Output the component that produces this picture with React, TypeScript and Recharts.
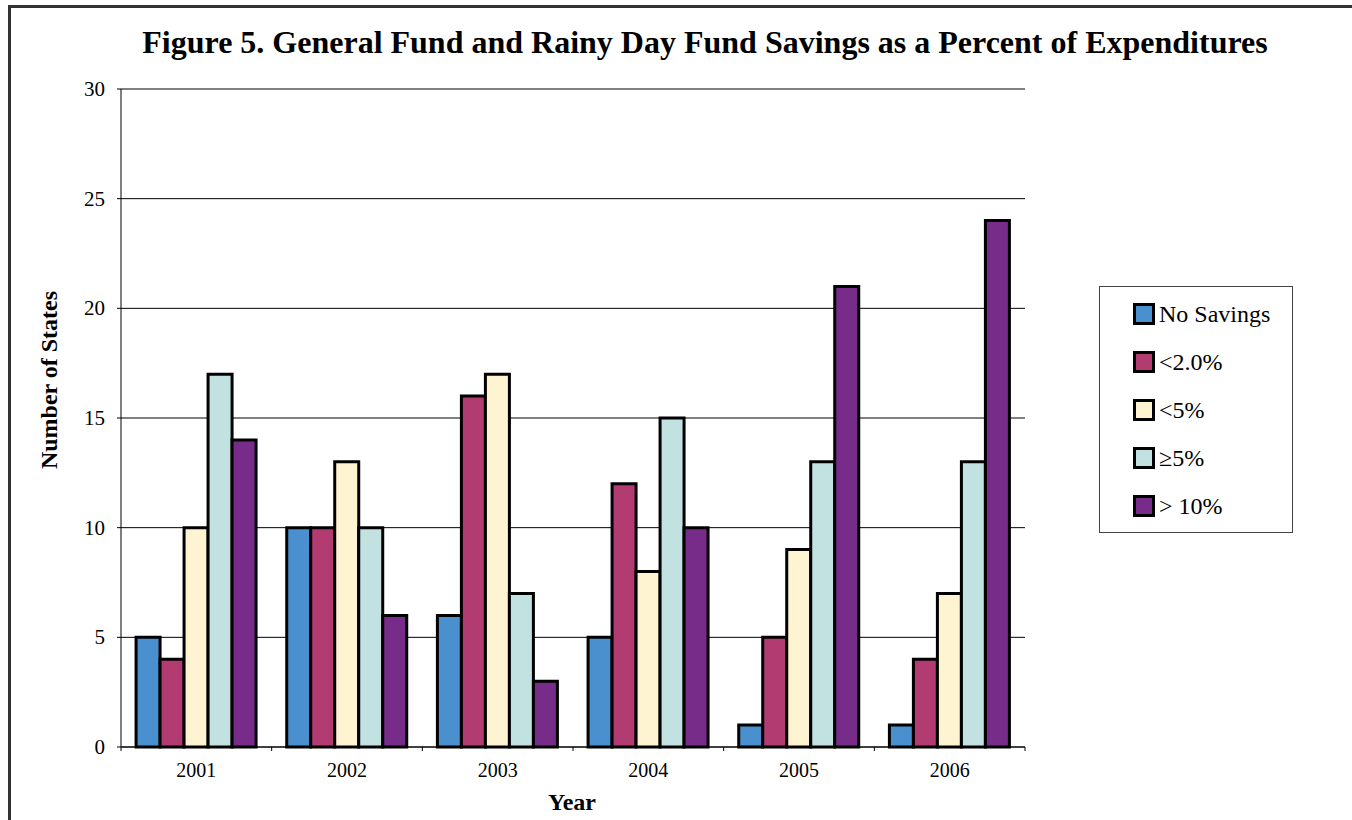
import React from "react";
import { BarChart, Bar, XAxis, YAxis, CartesianGrid } from "recharts";

const years = ["2001", "2002", "2003", "2004", "2005", "2006"];
const noSavings = [5, 10, 6, 5, 1, 1];
const under2 = [4, 10, 16, 12, 5, 4];
const under5 = [10, 13, 17, 8, 9, 7];
const atLeast5 = [17, 10, 7, 15, 13, 13];
const over10 = [14, 6, 3, 10, 21, 24];
const yTicks = [0, 5, 10, 15, 20, 25, 30];

const seriesDefs = [
  { key: "noSavings", name: "No Savings", color: "#4A8FCE", values: noSavings },
  { key: "under2", name: "<2.0%", color: "#B23B71", values: under2 },
  { key: "under5", name: "<5%", color: "#FFF4D2", values: under5 },
  { key: "atLeast5", name: "\u22655%", color: "#C1E2E0", values: atLeast5 },
  { key: "over10", name: "> 10%", color: "#782C8A", values: over10 },
];

const data = years.map((y, i) => {
  const row: any = { year: y };
  seriesDefs.forEach((s) => (row[s.key] = s.values[i]));
  return row;
});

const FONT = "'Liberation Serif', 'Times New Roman', serif";

const XTick = (props: any) => {
  const { x, y, payload, index } = props;
  const off = payload && payload.offset ? payload.offset : 0;
  const last = index === years.length - 1;
  return (
    <g>
      <line x1={x - off} x2={x - off} y1={y} y2={y + 4} stroke="#000" strokeWidth={1} />
      {last && <line x1={x + off} x2={x + off} y1={y} y2={y + 4} stroke="#000" strokeWidth={1} />}
      <text x={x} y={y + 30} textAnchor="middle" style={{ fontFamily: FONT, fontSize: 20 }} fill="#000">
        {payload.value}
      </text>
    </g>
  );
};

const YTick = (props: any) => {
  const { x, y, payload } = props;
  return (
    <text x={x} y={y} dy={7} textAnchor="end" style={{ fontFamily: FONT, fontSize: 21 }} fill="#000">
      {payload.value}
    </text>
  );
};

const LegendBox = () => (
  <div
    style={{
      position: "absolute",
      left: 1099,
      top: 286,
      width: 192,
      height: 245,
      border: "1px solid #444",
      background: "#fff",
      fontFamily: FONT,
    }}
  >
    {seriesDefs.map((s, i) => (
      <div
        key={s.key}
        style={{
          position: "absolute",
          left: 33,
          top: 16 + i * 47.9,
          display: "flex",
          alignItems: "center",
          height: 22,
        }}
      >
        <div
          style={{
            width: 16,
            height: 16,
            background: s.color,
            border: "3px solid #000",
            flex: "none",
          }}
        />
        <span style={{ marginLeft: 4, fontSize: 24, color: "#000", lineHeight: "22px", whiteSpace: "nowrap" }}>
          {s.name}
        </span>
      </div>
    ))}
  </div>
);

export default function App() {
  return (
    <div
      style={{
        position: "fixed",
        left: 0,
        top: 0,
        width: 1352,
        height: 820,
        background: "#fff",
        overflow: "hidden",
        fontFamily: FONT,
      }}
    >
      <div
        style={{
          position: "absolute",
          left: 8,
          top: 5,
          width: 1400,
          height: 900,
          border: "3px solid #333",
          boxSizing: "border-box",
        }}
      />
      <div
        style={{
          position: "absolute",
          left: 0,
          width: 1410,
          top: 23,
          textAlign: "center",
          fontWeight: "bold",
          fontSize: 32,
          color: "#000",
          lineHeight: "38px",
          whiteSpace: "nowrap",
        }}
      >
        Figure 5. General Fund and Rainy Day Fund Savings as a Percent of Expenditures
      </div>
      <div
        style={{
          position: "absolute",
          left: 49,
          top: 380,
          transform: "translate(-50%, -50%) rotate(-90deg)",
          fontWeight: "bold",
          fontSize: 24,
          whiteSpace: "nowrap",
          color: "#000",
        }}
      >
        Number of States
      </div>
      <div
        style={{
          position: "absolute",
          left: 572,
          top: 802,
          transform: "translate(-50%, -50%)",
          fontWeight: "bold",
          fontSize: 24,
          color: "#000",
        }}
      >
        Year
      </div>
      <div style={{ position: "absolute", left: 0, top: 0 }}>
        <BarChart
          width={1352}
          height={820}
          data={data}
          margin={{ top: 89, right: 327, bottom: 43, left: 61 }}
          barCategoryGap="10%"
          barGap={0}
        >
          <CartesianGrid vertical={false} horizontal={true} stroke="#000" strokeWidth={1} />
          <XAxis
            dataKey="year"
            height={30}
            tickLine={false}
            tickSize={0}
            tickMargin={0}
            axisLine={{ stroke: "#000", strokeWidth: 1 }}
            tick={<XTick />}
            interval={0}
          />
          <YAxis
            width={60}
            domain={[0, 30]}
            ticks={yTicks}
            interval={0}
            tickSize={4}
            tickMargin={12}
            axisLine={{ stroke: "#000", strokeWidth: 1 }}
            tickLine={{ stroke: "#000", strokeWidth: 1 }}
            tick={<YTick />}
          />
          {seriesDefs.map((s) => (
            <Bar
              key={s.key}
              dataKey={s.key}
              name={s.name}
              fill={s.color}
              stroke="#000"
              strokeWidth={3}
              isAnimationActive={false}
            />
          ))}
        </BarChart>
      </div>
      <LegendBox />
    </div>
  );
}
